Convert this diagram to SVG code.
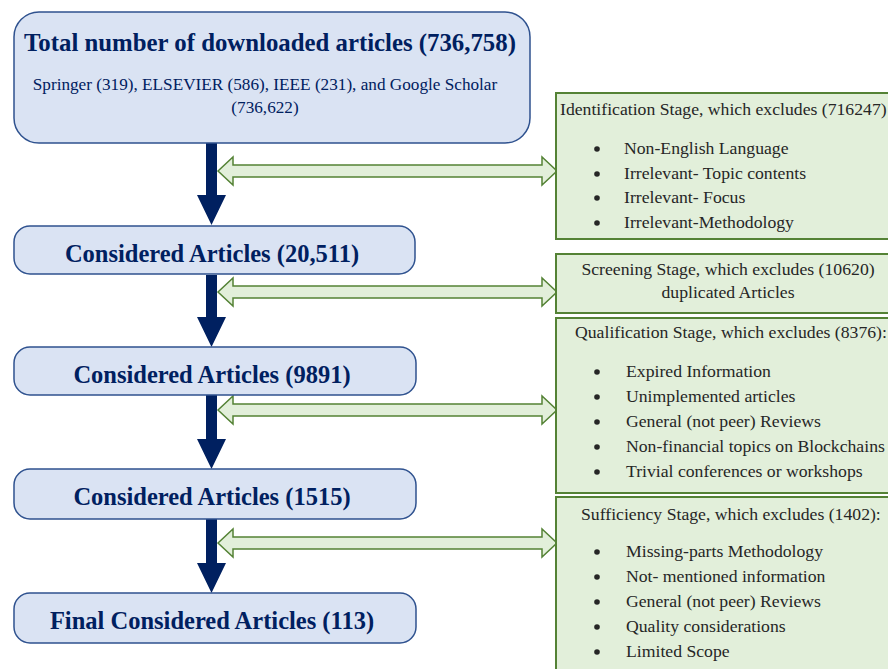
<svg xmlns="http://www.w3.org/2000/svg" width="888" height="669" viewBox="0 0 888 669">
<style>
.nb{fill:#dae3f3;stroke:#2f528f;stroke-width:1.5}
.gb{fill:#e2efda;stroke:#548235;stroke-width:2}
.ga{fill:#e2efda;stroke:#548235;stroke-width:1.5}
.na{fill:#002060}
text{font-family:'Liberation Serif','Times New Roman',serif}
.t{font-weight:bold;fill:#002060;font-size:24.5px;text-anchor:middle}
.s{fill:#002060;font-size:17.2px;text-anchor:middle}
.g{fill:#262626;font-size:17.7px}
.c{text-anchor:middle}
</style>
<rect width="888" height="669" fill="#ffffff"/>
<g id="connectors">
  <path class="na" d="M206,143 H217 V195 H226 L211.5,225 L197,195 H206 Z"/>
  <path class="na" d="M206,275 H217 V317 H226 L211.5,347 L197,317 H206 Z"/>
  <path class="na" d="M206,395 H217 V439 H226 L211.5,469 L197,439 H206 Z"/>
  <path class="na" d="M206,519 H217 V563 H226 L211.5,593 L197,563 H206 Z"/>
  <path class="ga" d="M218,171 L233,157 V165 H542 V157 L557,171 L542,185 V177 H233 V185 Z"/>
  <path class="ga" d="M218,292 L233,278 V286 H542 V278 L557,292 L542,306 V298 H233 V306 Z"/>
  <path class="ga" d="M218,410 L233,396 V404 H542 V396 L557,410 L542,424 V416 H233 V424 Z"/>
  <path class="ga" d="M218,543 L233,529 V537 H542 V529 L557,543 L542,557 V549 H233 V557 Z"/>
</g>
<g id="n-total">
  <rect class="nb" x="14" y="12" width="516" height="131" rx="25"/>
  <text class="t" x="270" y="51" style="font-size:24.8px">Total number of downloaded articles (736,758)</text>
  <text class="s" x="265" y="90">Springer (319), ELSEVIER (586), IEEE (231), and Google Scholar</text>
  <text class="s" x="265" y="113">(736,622)</text>
</g>
<g id="n-20511">
  <rect class="nb" x="14" y="226" width="401" height="48" rx="16"/>
  <text class="t" x="212" y="262">Considered Articles (20,511)</text>
</g>
<g id="n-9891">
  <rect class="nb" x="14" y="347" width="402" height="48" rx="16"/>
  <text class="t" x="212" y="383">Considered Articles (9891)</text>
</g>
<g id="n-1515">
  <rect class="nb" x="14" y="469" width="402" height="50" rx="16"/>
  <text class="t" x="212" y="505">Considered Articles (1515)</text>
</g>
<g id="n-113">
  <rect class="nb" x="14" y="593" width="402" height="50" rx="16"/>
  <text class="t" x="212" y="629">Final Considered Articles (113)</text>
</g>
<g id="n-identification">
  <rect class="gb" x="556" y="93" width="345" height="146"/>
  <text class="g" x="560" y="115">Identification Stage, which excludes (716247)</text>
  <g fill="#262626">
    <circle cx="597" cy="149" r="2.8"/>
    <circle cx="597" cy="174" r="2.8"/>
    <circle cx="597" cy="198" r="2.8"/>
    <circle cx="597" cy="223" r="2.8"/>
  </g>
  <text class="g" x="624" y="154">Non-English Language</text>
  <text class="g" x="624" y="179">Irrelevant- Topic contents</text>
  <text class="g" x="624" y="203">Irrelevant- Focus</text>
  <text class="g" x="624" y="228">Irrelevant-Methodology</text>
</g>
<g id="n-screening">
  <rect class="gb" x="556" y="254" width="345" height="59"/>
  <text class="g c" x="728" y="275">Screening Stage, which excludes (10620)</text>
  <text class="g c" x="728" y="298">duplicated Articles</text>
</g>
<g id="n-qualification">
  <rect class="gb" x="556" y="318" width="345" height="175"/>
  <text class="g" x="575" y="338">Qualification Stage, which excludes (8376):</text>
  <g fill="#262626">
    <circle cx="597" cy="372" r="2.8"/>
    <circle cx="597" cy="397" r="2.8"/>
    <circle cx="597" cy="422" r="2.8"/>
    <circle cx="597" cy="447" r="2.8"/>
    <circle cx="597" cy="472" r="2.8"/>
  </g>
  <text class="g" x="626" y="377">Expired Information</text>
  <text class="g" x="626" y="402">Unimplemented articles</text>
  <text class="g" x="626" y="427">General (not peer) Reviews</text>
  <text class="g" x="626" y="452">Non-financial topics on Blockchains</text>
  <text class="g" x="626" y="477">Trivial conferences or workshops</text>
</g>
<g id="n-sufficiency">
  <rect class="gb" x="556" y="497" width="345" height="190"/>
  <text class="g" x="581" y="520">Sufficiency Stage, which excludes (1402):</text>
  <g fill="#262626">
    <circle cx="597" cy="552" r="2.8"/>
    <circle cx="597" cy="577" r="2.8"/>
    <circle cx="597" cy="602" r="2.8"/>
    <circle cx="597" cy="627" r="2.8"/>
    <circle cx="597" cy="652" r="2.8"/>
  </g>
  <text class="g" x="626" y="557">Missing-parts Methodology</text>
  <text class="g" x="626" y="582">Not- mentioned information</text>
  <text class="g" x="626" y="607">General (not peer) Reviews</text>
  <text class="g" x="626" y="632">Quality considerations</text>
  <text class="g" x="626" y="657">Limited Scope</text>
</g>
</svg>
